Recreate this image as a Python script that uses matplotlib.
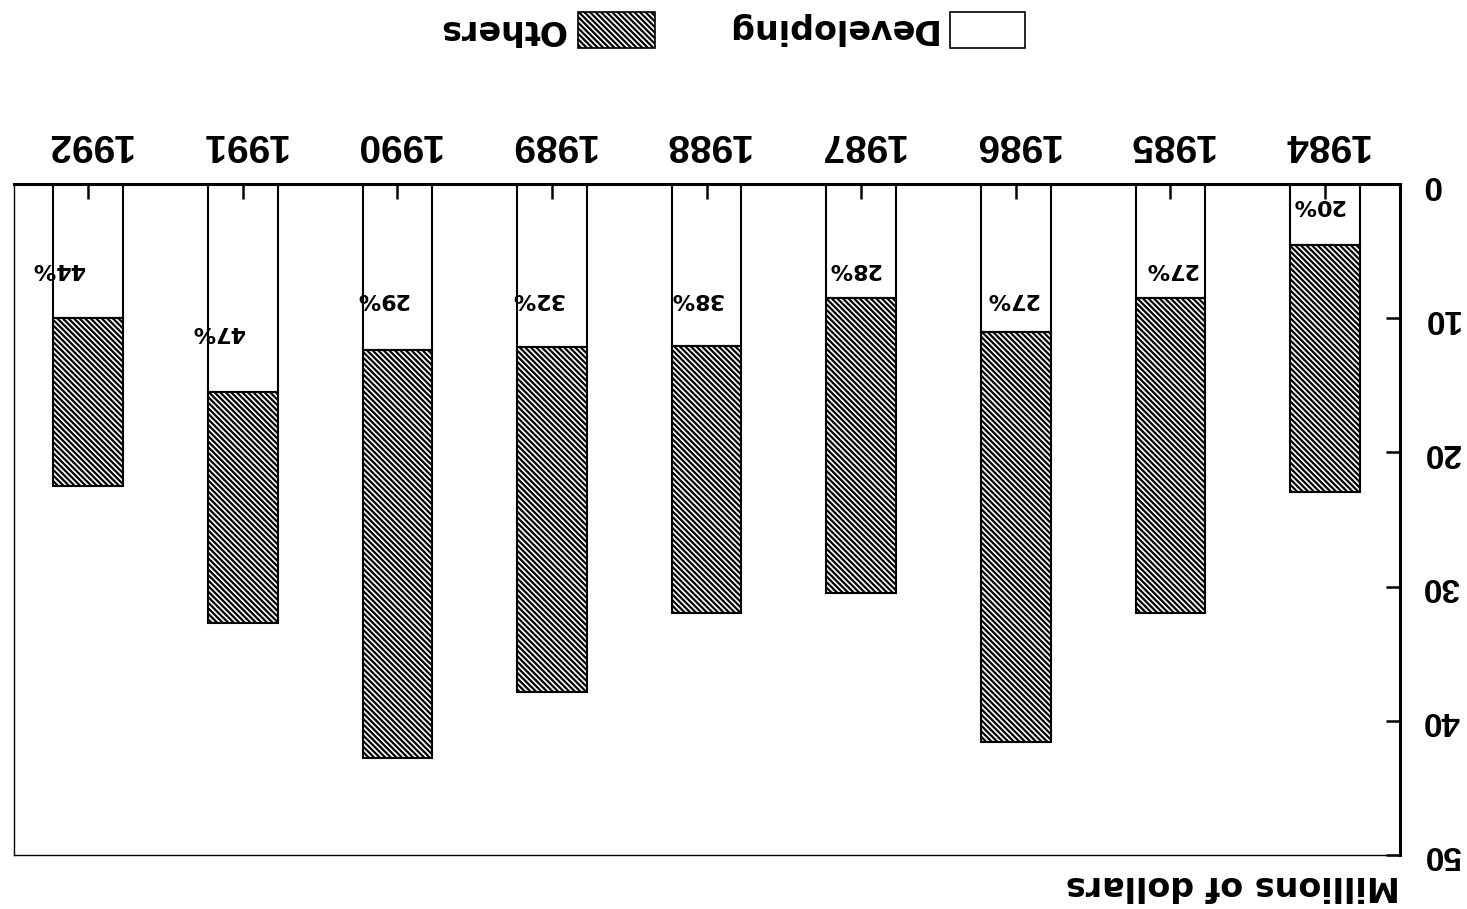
import matplotlib
matplotlib.use("Agg")
import matplotlib.pyplot as plt
from matplotlib.patches import Rectangle

years = ["1984", "1985", "1986", "1987", "1988", "1989", "1990", "1991", "1992"]
developing = [4.55, 8.5, 11.0, 8.5, 12.1, 12.15, 12.4, 15.5, 10.0]
total = [22.95, 32.0, 41.6, 30.5, 32.0, 37.85, 42.8, 32.7, 22.5]
pct = [20, 27, 27, 28, 38, 32, 29, 47, 44]
others = [t - d for t, d in zip(total, developing)]

# where the % labels sit (value axis) and small sideways nudge
pct_y = [1.6, 6.3, 8.6, 6.3, 8.6, 8.6, 8.6, 11.0, 6.3]
pct_dx = [0.05, 0.0, 0.03, 0.05, 0.07, 0.1, 0.1, 0.16, 0.19]

plt.rcParams['font.family'] = ['Liberation Sans', 'DejaVu Sans']
plt.rcParams['font.weight'] = 'bold'
plt.rcParams['hatch.linewidth'] = 1.6

HATCH = '\\\\\\\\\\\\'

fig = plt.figure(figsize=(14.67, 9.09), dpi=100)
ax = fig.add_axes([14 / 1467, 1 - 855 / 909, (1400 - 14) / 1467, (855 - 184) / 909])

x = list(range(len(years)))
w = 0.45
ax.bar(x, developing, w, color='white', edgecolor='black', linewidth=1.5)
ax.bar(x, others, w, bottom=developing, color='white', edgecolor='black',
       hatch=HATCH, linewidth=1.5)

for i in x:
    ax.text(i + pct_dx[i], pct_y[i], "%d%%" % pct[i], rotation=180,
            ha='center', va='center', fontsize=16, fontweight='bold',
            family='DejaVu Sans')

# whole chart is drawn upside-down
ax.set_xlim(8.48, -0.485)
ax.set_ylim(50, 0)

ax.set_xticks(x)
ax.set_xticklabels(years, rotation=180, fontsize=28)
ax.xaxis.tick_top()
ax.tick_params(axis='x', direction='in', length=11, width=1.8, pad=16)

ax.yaxis.tick_right()
ax.set_yticks([0, 10, 20, 30, 40, 50])
ax.set_yticklabels(["0", "10", "20", "30", "40", "50"], rotation=180, fontsize=24,
                   va='center')
ax.tick_params(axis='y', which='both', direction='in', length=10, width=1.8, pad=16,
               left=False, right=True)

ax.spines['top'].set_linewidth(2.2)
ax.spines['right'].set_linewidth(2.2)
ax.spines['left'].set_linewidth(1.0)
ax.spines['bottom'].set_linewidth(1.0)

fig.text(1400 / 1467, 1 - 885 / 909, "Millions of dollars",
         rotation=180, ha='right', va='center', fontsize=24, fontweight='bold',
         family='DejaVu Sans')

# legend, hand placed
fw, fh = 1467.0, 909.0
fig.add_artist(Rectangle((950 / fw, 1 - 48 / fh), 75 / fw, 36 / fh, transform=fig.transFigure,
                         facecolor='white', edgecolor='black', linewidth=1.2))
fig.text(936 / fw, 1 - 29 / fh, "Developing", rotation=180, ha='right', va='center',
         fontsize=24, fontweight='bold', family='DejaVu Sans')
fig.add_artist(Rectangle((578 / fw, 1 - 48 / fh), 77 / fw, 36 / fh, transform=fig.transFigure,
                         facecolor='white', edgecolor='black', linewidth=1.2, hatch=HATCH))
fig.text(565 / fw, 1 - 29 / fh, "Others", rotation=180, ha='right', va='center',
         fontsize=24, fontweight='bold', family='DejaVu Sans')

fig.savefig("out.png", dpi=100)
